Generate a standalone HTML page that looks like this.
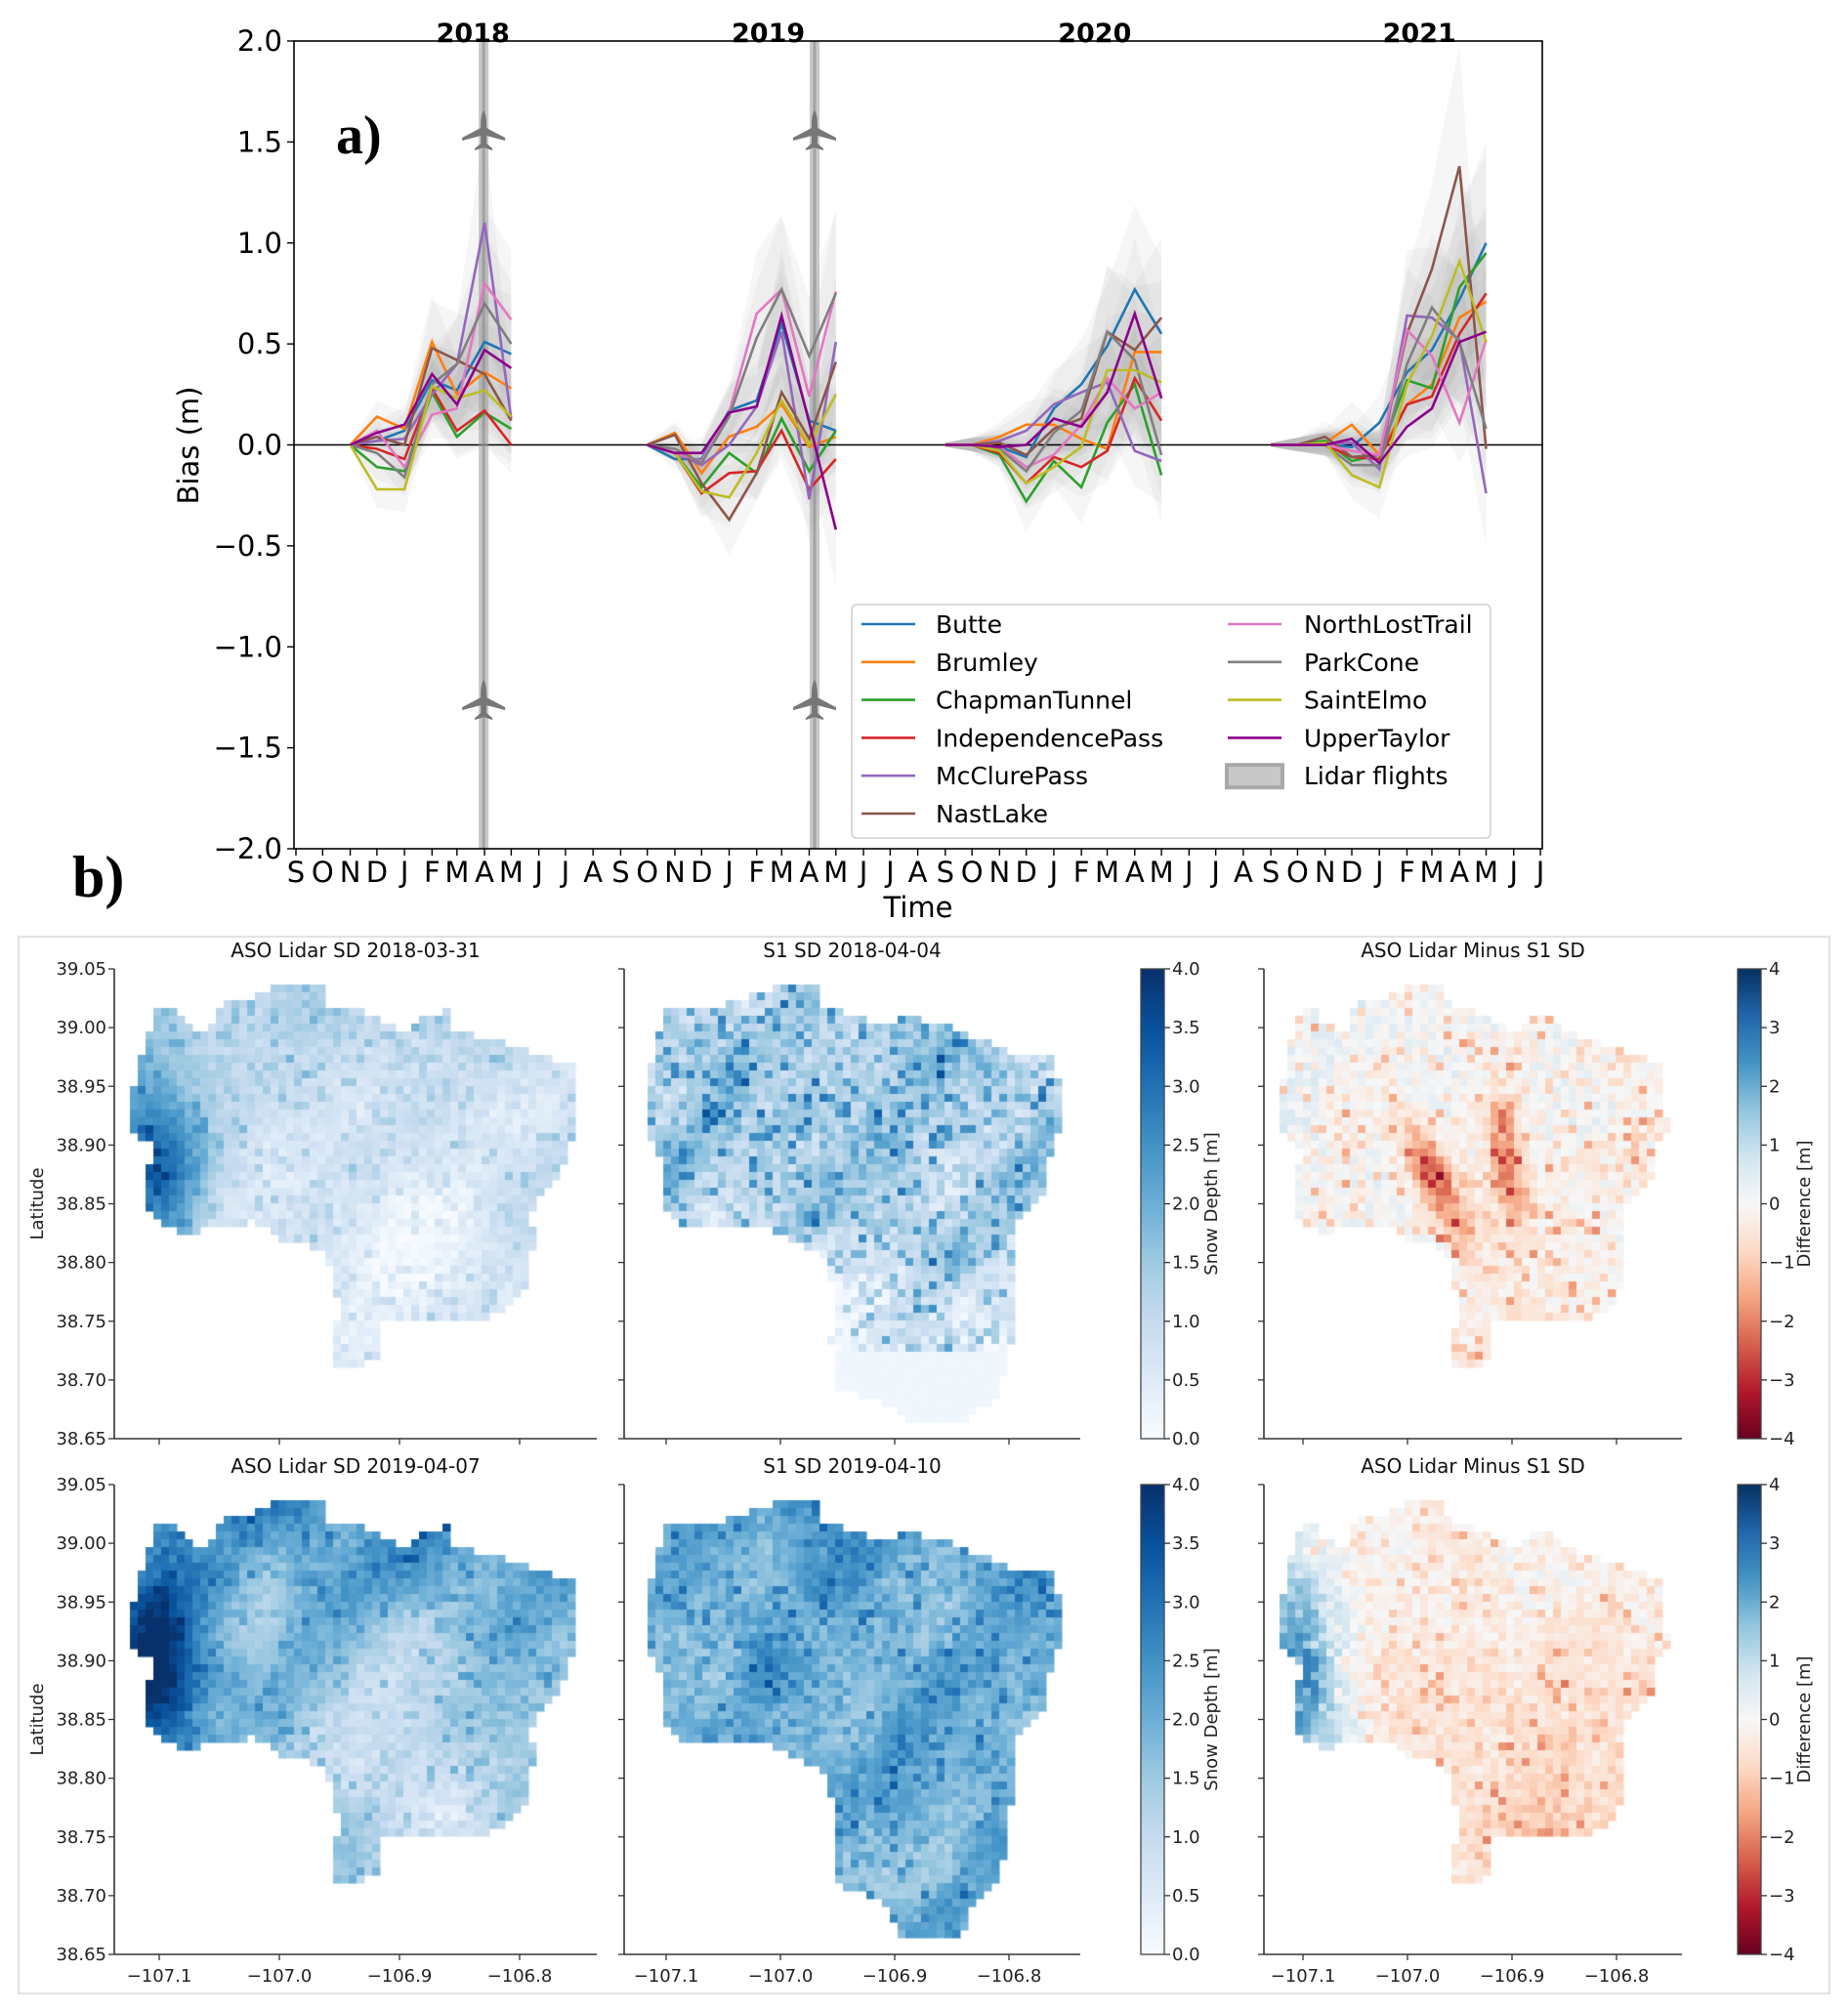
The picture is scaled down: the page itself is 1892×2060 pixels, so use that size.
<!DOCTYPE html>
<html><head><meta charset="utf-8">
<style>
html,body{margin:0;padding:0;background:#fff;}
#root{position:relative;width:1892px;height:2060px;overflow:hidden;background:#fff;font-family:"DejaVu Sans","Liberation Sans",sans-serif;}
canvas{position:absolute;left:0;top:0;}
svg{position:absolute;left:0;top:0;}
</style></head>
<body>
<div id="root">
<div style="position:absolute;left:18px;top:958px;width:1852px;height:1080px;border:2px solid #e2e2e2;"></div>
<canvas id="maps" width="1892" height="2060"></canvas>
<svg id="svg" width="1892" height="2060" xmlns="http://www.w3.org/2000/svg"></svg>
</div>
<script>
// ---------------- Chart a data ----------------
const stations = ["Butte","Brumley","ChapmanTunnel","IndependencePass","McClurePass","NastLake","NorthLostTrail","ParkCone","SaintElmo","UpperTaylor"];
const colors = ["#1f77b4","#ff7f0e","#2ca02c","#d62728","#9467bd","#8c564b","#e377c2","#7f7f7f","#bcbd22","#8b008b"];
const yTicks = [2.0,1.5,1.0,0.5,0.0,-0.5,-1.0,-1.5,-2.0];
const monthLetters = ["S","O","N","D","J","F","M","A","M","J","J","A"];
const yearLabels = ["2018","2019","2020","2021"];
const yearLabelDates = ["2018-03-19","2019-02-14","2020-02-16","2021-02-15"];
const lidarDates = ["2018-03-31","2019-04-07"];
const dates2018 = ["2017-11-01","2017-12-01","2018-01-01","2018-02-01","2018-03-01","2018-04-01","2018-05-01"];
const dates2019 = ["2018-10-01","2018-11-01","2018-12-01","2019-01-01","2019-02-01","2019-03-01","2019-04-01","2019-05-01"];
const dates2020 = ["2019-09-01","2019-10-01","2019-11-01","2019-12-01","2020-01-01","2020-02-01","2020-03-01","2020-04-01","2020-05-01"];
const dates2021 = ["2020-09-01","2020-10-01","2020-11-01","2020-12-01","2021-01-01","2021-02-01","2021-03-01","2021-04-01","2021-05-01"];
const bias2018 = [
 [0,0.02,0.07,0.32,0.27,0.51,0.45],
 [0,0.14,0.08,0.51,0.25,0.36,0.28],
 [0,-0.11,-0.13,0.26,0.04,0.16,0.08],
 [0,-0.02,-0.07,0.28,0.07,0.17,0.0],
 [0,0.02,0.03,0.25,0.40,1.10,0.13],
 [0,0.04,0.0,0.48,0.42,0.35,0.12],
 [0,0.07,-0.11,0.15,0.18,0.80,0.62],
 [0,-0.04,-0.16,0.30,0.40,0.70,0.50],
 [0,-0.22,-0.22,0.29,0.23,0.27,0.14],
 [0,0.06,0.10,0.35,0.20,0.47,0.38]];
const bias2019 = [
 [0,-0.07,-0.07,0.17,0.22,0.60,0.12,0.07],
 [0,0.06,-0.14,0.04,0.09,0.20,-0.01,0.04],
 [0,-0.04,-0.21,-0.04,-0.14,0.13,-0.13,0.07],
 [0,-0.04,-0.24,-0.14,-0.13,0.07,-0.22,-0.07],
 [0,-0.04,-0.10,0.0,0.19,0.56,-0.27,0.51],
 [0,0.05,-0.19,-0.37,-0.14,0.26,0.03,0.41],
 [0,-0.04,-0.08,0.16,0.65,0.77,0.24,0.76],
 [0,-0.02,-0.09,0.14,0.53,0.77,0.44,0.75],
 [0,-0.04,-0.23,-0.26,-0.04,0.22,0.0,0.25],
 [0,-0.04,-0.04,0.16,0.19,0.64,0.11,-0.42]];
const bias2020 = [
 [0,0,-0.01,-0.06,0.18,0.30,0.49,0.77,0.55],
 [0,0,0.04,0.10,0.10,0.03,-0.02,0.46,0.46],
 [0,0,-0.05,-0.28,-0.08,-0.21,0.11,0.30,-0.15],
 [0,0,-0.04,-0.19,-0.06,-0.11,-0.03,0.33,0.12],
 [0,0,0.02,0.07,0.20,0.26,0.31,-0.03,-0.08],
 [0,0,0.01,-0.05,0.08,0.13,0.56,0.47,0.63],
 [0,0,-0.01,-0.11,-0.05,0.10,0.33,0.18,0.26],
 [0,0,-0.02,-0.13,0.06,0.17,0.56,0.42,-0.05],
 [0,0,-0.03,-0.19,-0.11,-0.01,0.37,0.37,0.31],
 [0,0,-0.01,0.0,0.13,0.09,0.26,0.65,0.23]];
const bias2021 = [
 [0,0,0,-0.01,0.11,0.36,0.47,0.72,1.00],
 [0,0,0.01,0.10,-0.05,0.20,0.30,0.63,0.71],
 [0,0,0.02,-0.08,-0.05,0.32,0.28,0.78,0.95],
 [0,0,0,-0.06,-0.07,0.20,0.24,0.55,0.75],
 [0,0,0,0.01,-0.12,0.64,0.63,0.52,-0.24],
 [0,0,0.04,-0.06,-0.05,0.55,0.87,1.38,-0.02],
 [0,0,0,-0.03,-0.05,0.57,0.44,0.11,0.52],
 [0,0,0,-0.10,-0.10,0.40,0.68,0.51,0.08],
 [0,0,0.01,-0.15,-0.21,0.30,0.54,0.91,0.51],
 [0,0,0,0.03,-0.09,0.09,0.18,0.51,0.56]];
const seasonDates = [dates2018,dates2019,dates2020,dates2021];
const seasonBias = [bias2018,bias2019,bias2020,bias2021];

// ---------------- Map data ----------------
const latTicks = ["39.05","39.00","38.95","38.90","38.85","38.80","38.75","38.70","38.65"];
const lonTicks = ["\u2212107.1","\u2212107.0","\u2212106.9","\u2212106.8"];
const sdTicks = ["0.0","0.5","1.0","1.5","2.0","2.5","3.0","3.5","4.0"];
const diffTicks = ["\u22124","\u22123","\u22122","\u22121","0","1","2","3","4"];
const mapTitles = ["ASO Lidar SD 2018-03-31","S1 SD 2018-04-04","ASO Lidar Minus S1 SD","ASO Lidar SD 2019-04-07","S1 SD 2019-04-10","ASO Lidar Minus S1 SD"];
const mapParams = [
 [0.7,0.4,2.3,0,0],
 [1.0,0.9,0,0,0.15],
 [0.1,0.8,0.9,-2.4,0],
 [1.6,0.5,2.4,0,0],
 [1.7,0.7,0,0,0],
 [-0.55,0.7,2.8,0,0]];

const NS="http://www.w3.org/2000/svg";
const svg=document.getElementById('svg');
function el(tag,attrs,parent){const e=document.createElementNS(NS,tag);for(const k in attrs)e.setAttribute(k,attrs[k]);(parent||svg).appendChild(e);return e;}
function txt(s,attrs,parent){const e=el('text',attrs,parent);e.textContent=s;return e;}

const AX={l:301,r:1579,t:42,b:869};
const t0=Date.UTC(2017,8,1);
function xDate(s){const p=s.split('-');const d=Date.UTC(+p[0],+p[1]-1,+p[2]);return 303+(d-t0)/86400000*0.9107;}
function yVal(v){return 455.5-v*206.75;}

const gA=el('g',{});



const gBands=el('g',{},gA);


seasonBias.forEach((rows,si)=>{
  const ds=seasonDates[si];
  rows.forEach((vals,k)=>{
    let up=[],lo=[];
    vals.forEach((v,i)=>{const w=0.01+0.3*Math.abs(v)+0.025*i;up.push([xDate(ds[i]),yVal(v+w)]);lo.push([xDate(ds[i]),yVal(v-w*0.9)]);});
    const pts=up.concat(lo.reverse()).map(p=>p[0].toFixed(1)+','+p[1].toFixed(1)).join(' ');
    const pg=el('polygon',{points:pts,fill:'#7a7a7a','fill-opacity':0.07},gBands);
    
    
  });
});
const zl=el('line',{x1:AX.l,x2:AX.r,y1:yVal(0),y2:yVal(0),stroke:'#000','stroke-width':1.6},gA);


lidarDates.forEach((d,i)=>{
  const x=xDate(d);
  const g=el('g',{},gA);
  
  
  el('rect',{x:x-5,y:AX.t,width:10,height:AX.b-AX.t,fill:'#9a9a9a','fill-opacity':0.55},g);
  el('rect',{x:x-1.5,y:AX.t,width:3,height:AX.b-AX.t,fill:'#8a8a8a','fill-opacity':0.6},g);
  [1.55,-1.27].forEach(v=>{
    const y=yVal(v);
    const p=el('path',{d:`M${x},${y-22} C${x+3},${y-18} ${x+3},${y-10} ${x+3},${y-4} L${x+22},${y+6} L${x+22},${y+9} L${x+3},${y+4} L${x+3},${y+12} L${x+9},${y+17} L${x+9},${y+19} L${x},${y+16} L${x-9},${y+19} L${x-9},${y+17} L${x-3},${y+12} L${x-3},${y+4} L${x-22},${y+9} L${x-22},${y+6} L${x-3},${y-4} C${x-3},${y-10} ${x-3},${y-18} ${x},${y-22} Z`,fill:'#777'},g);
    
    
  });
});
seasonBias.forEach((rows,si)=>{
  const ds=seasonDates[si];
  rows.forEach((vals,k)=>{
    const pts=vals.map((v,i)=>xDate(ds[i]).toFixed(1)+','+yVal(v).toFixed(1)).join(' ');
    const pl=el('polyline',{points:pts,fill:'none',stroke:colors[k],'stroke-width':2.6,'stroke-linejoin':'miter'},gA);
    
    
  });
});
const fr=el('rect',{x:AX.l,y:AX.t,width:AX.r-AX.l,height:AX.b-AX.t,fill:'none',stroke:'#000','stroke-width':1.6},gA);


yTicks.forEach(v=>{
  const y=yVal(v);
  el('line',{x1:AX.l-7,x2:AX.l,y1:y,y2:y,stroke:'#000','stroke-width':1.4},gA);
  const t=txt((v<0?'\u2212':'')+Math.abs(v).toFixed(1),{x:AX.l-12,y:y+10,'font-size':29,'text-anchor':'end',fill:'#000'},gA);
  
  
});
for(let m=0;m<47;m++){
  const yy=2017+Math.floor((8+m)/12), mm=(8+m)%12;
  const d=yy+'-'+String(mm+1).padStart(2,'0')+'-01';
  const x=xDate(d);
  if(x>AX.r+2)break;
  el('line',{x1:x,x2:x,y1:AX.b,y2:AX.b+7,stroke:'#000','stroke-width':1.4},gA);
  const t=txt(monthLetters[m%12],{x:x,y:AX.b+34,'font-size':29,'text-anchor':'middle',fill:'#000'},gA);
  
  
}
yearLabels.forEach((s,i)=>{
  const t=txt(s,{x:xDate(yearLabelDates[i]),y:43,'font-size':27,'font-weight':'bold','text-anchor':'middle',fill:'#000'},gA);
  
  
});
let t=txt('Bias (m)',{x:0,y:0,'font-size':29,'text-anchor':'middle',transform:'translate(203,456) rotate(-90)'},gA);


t=txt('Time',{x:940,y:939,'font-size':29,'text-anchor':'middle'},gA);


t=txt('a)',{x:344,y:157,'font-size':56,'font-weight':'bold','font-family':'"Liberation Serif",serif'});


t=txt('b)',{x:74,y:918,'font-size':60,'font-weight':'bold','font-family':'"Liberation Serif",serif'});



const lg=el('g',{});


el('rect',{x:872,y:619,width:654,height:239,rx:5,fill:'#fff','fill-opacity':0.85,stroke:'#d0d0d0','stroke-width':1.6},lg);
const legendItems=stations.concat(['Lidar flights']);
legendItems.forEach((s,i)=>{
  const col=i<6?0:1, row=i<6?i:i-6;
  const y=639+row*38.8;
  const lx=col?1257:882, tx=col?1335:958;
  const g=el('g',{},lg);
  
  
  if(i<10) el('line',{x1:lx,x2:lx+55,y1:y,y2:y,stroke:colors[i],'stroke-width':2.6},g);
  else { el('rect',{x:lx-1,y:y-11,width:57,height:23,fill:'#c8c8c8',stroke:'#a8a8a8','stroke-width':4},g); }
  txt(s,{x:tx,y:y+9,'font-size':25,fill:'#000'},g);
});

// ---------------- Maps ----------------
const BLUES=[[247,251,255],[222,235,247],[198,219,239],[158,202,225],[107,174,214],[66,146,198],[33,113,181],[8,81,156],[8,48,107]];
const RDBU=[[103,0,31],[178,24,43],[214,96,77],[244,165,130],[253,219,199],[247,247,247],[209,229,240],[146,197,222],[67,147,195],[33,102,172],[5,48,97]];
function cmap(c,f){f=Math.max(0,Math.min(1,f));const n=c.length-1;const i=Math.min(n-1,Math.floor(f*n));const r=f*n-i;const a=c[i],b=c[i+1];return `rgb(${Math.round(a[0]+(b[0]-a[0])*r)},${Math.round(a[1]+(b[1]-a[1])*r)},${Math.round(a[2]+(b[2]-a[2])*r)})`;}
const ASO=[[45,41],[62,43],[72,57],[96,68],[106,37],[145,28],[166,18],[215,16],[217,37],[243,39],[296,66],[317,48],[343,43],[349,64],[415,80],[439,89],[472,98],[476,166],[464,180],[459,209],[447,226],[433,230],[427,251],[429,284],[421,294],[423,326],[402,350],[374,359],[272,360],[268,400],[239,410],[225,409],[225,367],[233,348],[223,319],[215,287],[170,276],[141,259],[80,269],[66,271],[41,255],[35,244],[35,205],[47,193],[33,175],[19,168],[19,123],[31,80],[37,57]];
const S1A=[[42,44],[103,37],[151,19],[201,18],[203,37],[255,55],[298,50],[331,57],[394,85],[437,92],[450,123],[450,159],[437,180],[433,223],[402,259],[398,291],[400,330],[395,400],[380,440],[345,465],[290,465],[270,445],[218,430],[212,380],[216,337],[207,294],[185,284],[159,269],[116,262],[62,266],[38,241],[38,198],[25,166],[21,130],[29,87]];
const S1B=[[42,44],[103,37],[151,19],[201,18],[203,37],[255,55],[298,50],[331,57],[394,85],[437,92],[450,123],[450,159],[437,180],[433,223],[402,259],[398,291],[394,359],[381,409],[359,426],[346,464],[285,462],[264,426],[220,409],[216,337],[207,294],[185,284],[159,269],[116,262],[62,266],[38,241],[38,198],[25,166],[21,130],[29,87]];
const panels=[
 {L:117,T:992,W:494,sx:1,poly:ASO,c:BLUES,lo:0,hi:4,tick0:46,tsp:123,cb:null},
 {L:639,T:992,W:467,sx:1,poly:S1A,c:BLUES,lo:0,hi:4,tick0:43,tsp:117,cb:{x:1168,ticks:sdTicks,label:'Snow Depth [m]',c:BLUES,lx:1246}},
 {L:1294,T:992,W:428,sx:0.867,poly:ASO,c:RDBU,lo:-4,hi:4,tick0:40,tsp:107,cb:{x:1779,ticks:diffTicks,label:'Difference [m]',c:RDBU,lx:1853}},
 {L:117,T:1520,W:494,sx:1,poly:ASO,c:BLUES,lo:0,hi:4,tick0:46,tsp:123,cb:null},
 {L:639,T:1520,W:467,sx:1,poly:S1B,c:BLUES,lo:0,hi:4,tick0:43,tsp:117,cb:{x:1168,ticks:sdTicks,label:'Snow Depth [m]',c:BLUES,lx:1246}},
 {L:1294,T:1520,W:428,sx:0.867,poly:ASO,c:RDBU,lo:-4,hi:4,tick0:40,tsp:107,cb:{x:1779,ticks:diffTicks,label:'Difference [m]',c:RDBU,lx:1853}}];
const H=481;
function hash(i,j,s){let h=(i*374761393+j*668265263+s*982451653)|0;h=(h^(h>>>13))*1274126177|0;h=h^(h>>>16);return ((h>>>0)%10000)/10000;}
function vnoise(x,y,s){const xi=Math.floor(x),yi=Math.floor(y),fx=x-xi,fy=y-yi;const a=hash(xi,yi,s),b=hash(xi+1,yi,s),c=hash(xi,yi+1,s),d=hash(xi+1,yi+1,s);const ux=fx*fx*(3-2*fx),uy=fy*fy*(3-2*fy);return a+(b-a)*ux+(c-a)*uy+(a-b-c+d)*ux*uy;}
function sig(x){return 1/(1+Math.exp(-x));}
function inPoly(x,y,p){let c=false;for(let i=0,j=p.length-1;i<p.length;j=i++){const xi=p[i][0],yi=p[i][1],xj=p[j][0],yj=p[j][1];if(((yi>y)!=(yj>y))&&(x<(xj-xi)*(y-yi)/(yj-yi)+xi))c=!c;}return c;}
function field(m,u,v,i,j){
  const P=mapParams[m];const base=P[0],na=P[1],nw=P[2],red=P[3],south=P[4];
  const n1=vnoise(u*10,v*10,m+1)-0.5, n2=hash(i,j,m+7)-0.5, n3=Math.pow(hash(i,j,m+31),6);
  const nwg=Math.exp(-((u-0.07)*(u-0.07)/0.012+(v-0.4)*(v-0.4)/0.05));
  const ridge=Math.sin(u*16+v*13+m);
  const valley=Math.exp(-((u-0.6)*(u-0.6)/0.04+(v-0.62)*(v-0.62)/0.05));
  const rim=Math.exp(-Math.max(0,v-0.05)/0.12);
  if(m==0) return base+nw*nwg+0.4*n1+na*n2+0.2*ridge+0.5*rim-0.45*valley+0.8*n3;
  if(m==3) return base+nw*nwg+0.6*n1+na*n2+0.3*ridge+1.0*rim-0.9*valley+0.8*n3;
  if(m==1){ if(v>0.8) return south+0.04*n2; return base+na*n1+0.8*n2+0.7*Math.max(0,ridge)-0.8*sig((v-0.6)*12)+1.8*n3;}
  if(m==4) return base+na*n1+0.6*n2+0.4*Math.max(0,ridge)+0.5*rim+1.0*n3;
  if(m==2){
    const l1=Math.exp(-Math.pow(u-0.32-0.55*(v-0.3),2)/0.003)*Math.exp(-Math.pow(v-0.45,2)/0.02);
    const l2=Math.exp(-Math.pow(u-0.55-0.15*(v-0.25),2)/0.002)*Math.exp(-Math.pow(v-0.42,2)/0.02);
    return base+0.5*n1+na*n2+red*(0.9*l1+0.9*l2)-0.35*sig((v-0.55)*10)+0.4*sig((0.15-u)*15)-1.6*n3;}
  return base+0.5*n1+na*n2+nw*nwg+0.5*sig((0.3-v)*10)+0.7*sig((0.35-u)*10)*sig((v-0.45)*10)-0.4*sig((v-0.7)*10)-1.2*n3;
}
const cv=document.getElementById('maps');const ctx=cv.getContext('2d');
const cell=8;
panels.forEach((P,m)=>{
  const poly=P.poly.map(p=>[P.L+p[0]*P.sx,P.T+p[1]]);
  const g=el('g',{});
  
  
  for(let j=0;j*cell<H;j++)for(let i=0;i*cell<P.W;i++){
    const x=P.L+i*cell,y=P.T+j*cell;
    if(!inPoly(x+cell/2,y+cell/2,poly))continue;
    const u=(x-P.L)/P.W,v=(y-P.T)/H;
    const val=field(m,u,v,i,j);
    ctx.fillStyle=cmap(P.c,(val-P.lo)/(P.hi-P.lo));
    ctx.fillRect(x,y,cell+0.5,cell+0.5);
  }
  el('line',{x1:P.L,x2:P.L,y1:P.T,y2:P.T+H,stroke:'#333','stroke-width':1.6},g);
  el('line',{x1:P.L,x2:P.L+P.W,y1:P.T+H,y2:P.T+H,stroke:'#333','stroke-width':1.6},g);
  latTicks.forEach((s,k)=>{
    const y=P.T+k*H/8;
    el('line',{x1:P.L-6,x2:P.L,y1:y,y2:y,stroke:'#333','stroke-width':1.3},g);
    if(m%3==0){const tt=txt(s,{x:P.L-8,y:y+6,'font-size':18,'text-anchor':'end',fill:'#222'},g);
      
      }
  });
  lonTicks.forEach((s,k)=>{
    const x=P.L+P.tick0+k*P.tsp;
    el('line',{x1:x,x2:x,y1:P.T+H,y2:P.T+H+6,stroke:'#333','stroke-width':1.3},g);
    if(m>=3){const tt=txt(s,{x:x,y:P.T+H+28,'font-size':18,'text-anchor':'middle',fill:'#222'},g);
      
      }
  });
  const tc=txt(mapTitles[m],{x:P.L+P.W/2,y:P.T-12,'font-size':20,'text-anchor':'middle',fill:'#111'},g);
  
  
  if(m%3==0){const la=txt('Latitude',{x:0,y:0,'font-size':18,'text-anchor':'middle',fill:'#222',transform:`translate(44,${P.T+H/2}) rotate(-90)`},g);
    
    }
  if(P.cb){
    const C=P.cb;
    const cg=el('g',{},g);
    
    
    const gid='grad'+m;
    const lgd=el('linearGradient',{id:gid,x1:0,y1:1,x2:0,y2:0},cg);
    C.c.forEach((c,k)=>el('stop',{offset:k/(C.c.length-1),'stop-color':`rgb(${c[0]},${c[1]},${c[2]})`},lgd));
    el('rect',{x:C.x,y:P.T,width:24,height:H,fill:`url(#${gid})`,stroke:'#444','stroke-width':1.3},cg);
    C.ticks.forEach((s,k)=>{
      const y=P.T+H-k*H/8;
      el('line',{x1:C.x+24,x2:C.x+30,y1:y,y2:y,stroke:'#333','stroke-width':1.3},cg);
      txt(s,{x:C.x+32,y:y+6,'font-size':18,fill:'#222'},cg);
    });
    txt(C.label,{x:0,y:0,'font-size':18,'text-anchor':'middle',fill:'#222',transform:`translate(${C.lx},${P.T+H/2}) rotate(-90)`},cg);
  }
});
</script>
</body></html>
